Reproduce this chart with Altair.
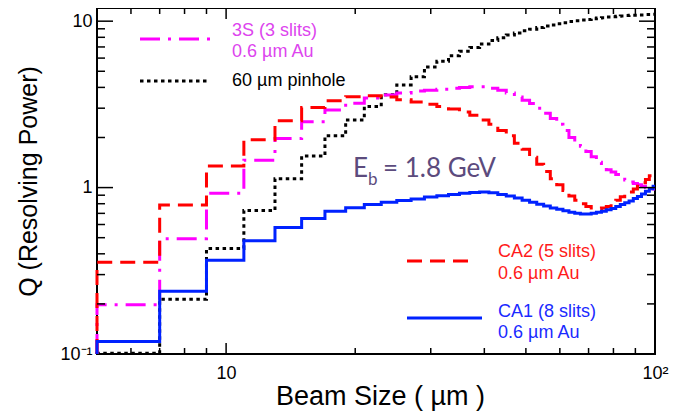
import altair as alt
import pandas as pd

# ---------------- data ----------------
bin_low_edges = list(range(5, 100, 2))   # 2 um wide bins: 5-7, 7-9, ..., 99-101
x_end = 100

ca1_8slits = [0.119, 0.238, 0.366, 0.48, 0.575, 0.652, 0.721, 0.756, 0.791, 0.817,
              0.836, 0.855, 0.879, 0.893, 0.91, 0.925, 0.935, 0.94, 0.93, 0.91,
              0.89, 0.865, 0.84, 0.815, 0.795, 0.775, 0.755, 0.74, 0.725, 0.71,
              0.70, 0.695, 0.695, 0.70, 0.71, 0.72, 0.735, 0.75, 0.77, 0.79,
              0.81, 0.83, 0.86, 0.885, 0.915, 0.95, 0.985, 1.02]

pinhole_60um = [0.101, 0.213, 0.43, 0.728, 1.13, 1.55, 2.05, 2.55, 3.07, 3.61,
                4.14, 4.64, 5.3, 5.75, 6.2, 6.6, 6.95, 7.3, 7.65, 7.95,
                8.25, 8.5, 8.75, 8.95, 9.15, 9.35, 9.5, 9.65, 9.8, 9.95,
                10.05, 10.15, 10.25, 10.35, 10.45, 10.5, 10.6, 10.65, 10.7, 10.75,
                10.8, 10.85, 10.85, 10.9, 10.9, 10.95, 10.95, 11.0]

ca2_5slits = [0.356, 0.787, 1.35, 1.94, 2.52, 3.03, 3.33, 3.52, 3.56, 3.5,
              3.37, 3.27, 3.17, 3.07, 2.97, 2.85, 2.72, 2.55, 2.4, 2.2,
              2.05, 1.85, 1.7, 1.52, 1.38, 1.25, 1.13, 1.04, 0.96, 0.89,
              0.84, 0.80, 0.77, 0.755, 0.75, 0.755, 0.77, 0.80, 0.84, 0.88,
              0.91, 0.94, 0.98, 1.02, 1.07, 1.12, 1.18, 1.25]

s3_3slits = [0.198, 0.493, 0.925, 1.46, 1.97, 2.49, 2.93, 3.21, 3.45, 3.6,
             3.7, 3.8, 3.85, 3.9, 3.95, 4.0, 4.04, 4.04, 3.95, 3.85,
             3.7, 3.5, 3.35, 3.2, 3.0, 2.8, 2.6, 2.4, 2.2, 2.0,
             1.88, 1.77, 1.65, 1.53, 1.42, 1.35, 1.28, 1.24, 1.2, 1.15,
             1.11, 1.08, 1.06, 1.04, 1.02, 1.0, 0.99, 0.98]

x_minor_ticks = [6, 7, 8, 9, 20, 30, 40, 50, 60, 70, 80, 90]
x_major_ticks = [10]
y_minor_ticks = [0.2, 0.3, 0.4, 0.5, 0.6, 0.7, 0.8, 0.9, 2, 3, 4, 5, 6, 7, 8, 9]
y_major_ticks = [1, 10]

X_DOMAIN = [5, 100]
Y_DOMAIN = [0.1, 12]

series = {
    "pinhole": pinhole_60um,
    "3S": s3_3slits,
    "CA2": ca2_5slits,
    "CA1": ca1_8slits,
}

rows = []
for name, vals in series.items():
    i = 0
    rows.append({"series": name, "x": X_DOMAIN[0], "q": Y_DOMAIN[0], "i": i})
    for e, v in zip(bin_low_edges, vals):
        i += 1
        rows.append({"series": name, "x": e, "q": v, "i": i})
    rows.append({"series": name, "x": x_end, "q": vals[-1], "i": i + 1})
df = pd.DataFrame(rows)

W, H = 558, 346
FONT = "Liberation Sans"

xs = alt.Scale(type="log", domain=X_DOMAIN, nice=False)
ys = alt.Scale(type="log", domain=Y_DOMAIN, nice=False)

x_axis = alt.Axis(values=[10, 100], labelExpr="datum.value < 50 ? '10' : '10²'",
                  ticks=False, domain=False, grid=False, labelFont=FONT, labelFontSize=18,
                  labelColor="black", labelPadding=10, labelOverlap=False, labelFlush=False,
                  title="Beam Size ( µm )", titleFont=FONT, titleFontSize=27,
                  titleFontWeight="normal", titleColor="black", titleX=283, titleY=42,
                  titleAlign="center", titleBaseline="middle")
y_axis = alt.Axis(values=[0.1, 1, 10],
                  labelExpr="datum.value < 0.5 ? '10⁻¹' : (datum.value < 5 ? '1' : '10')",
                  ticks=False, domain=False, grid=False, labelFont=FONT, labelFontSize=18,
                  labelColor="black", labelPadding=5, labelOverlap=False, labelFlush=False,
                  title="Q (Resolving Power)", titleFont=FONT, titleFontSize=25,
                  titleFontWeight="normal", titleColor="black", titleX=-69, titleY=173,
                  titleAngle=270, titleAlign="center", titleBaseline="middle")

styles = {
    "pinhole": ("black", [3.5, 3.5]),
    "3S": ("#ff00ff", [20, 8, 3, 8]),
    "CA2": ("#ff0000", [15, 8]),
    "CA1": ("#0022ff", None),
}

layers = []
for name in series:
    color, dash = styles[name]
    kw = dict(interpolate="step-after", color=color, strokeWidth=3, strokeCap="butt")
    if dash:
        kw["strokeDash"] = dash
    layers.append(
        alt.Chart(df).transform_filter(alt.datum.series == name).mark_line(**kw).encode(
            x=alt.X("x:Q", scale=xs, axis=x_axis),
            y=alt.Y("q:Q", scale=ys, axis=y_axis),
            order="i:Q",
        )
    )

# inward ticks on all four sides
def xticks(vals, y1, y2):
    return alt.Chart(pd.DataFrame({"v": vals})).mark_rule(color="black", strokeWidth=1.5).encode(
        x=alt.X("v:Q", scale=xs, axis=x_axis), y=alt.value(y1), y2=alt.value(y2))

def yticks(vals, x1, x2):
    return alt.Chart(pd.DataFrame({"v": vals})).mark_rule(color="black", strokeWidth=1.5).encode(
        y=alt.Y("v:Q", scale=ys, axis=y_axis), x=alt.value(x1), x2=alt.value(x2))

layers += [
    xticks(x_minor_ticks, H, H - 6), xticks(x_major_ticks, H, H - 11),
    xticks(x_minor_ticks, 0, 6), xticks(x_major_ticks, 0, 11),
    yticks(y_minor_ticks, 0, 8), yticks(y_major_ticks, 0, 16),
    yticks(y_minor_ticks, W, W - 8), yticks(y_major_ticks, W, W - 16),
]

def txt(s, x, y, color, size=18, font=FONT, baseline="middle"):
    return alt.Chart(pd.DataFrame({"t": [s]})).mark_text(
        align="left", baseline=baseline, color=color, fontSize=size, font=font
    ).encode(x=alt.value(x), y=alt.value(y), text="t:N")

def sample(x1, x2, y, color, dash=None):
    kw = dict(color=color, strokeWidth=3, strokeCap="butt")
    if dash:
        kw["strokeDash"] = dash
    return alt.Chart(pd.DataFrame({"a": [0]})).mark_rule(**kw).encode(
        x=alt.value(x1), x2=alt.value(x2), y=alt.value(y))

MAG_TXT = "#dd44ee"
layers += [
    sample(43, 113, 31, "#ff00ff", [20, 8, 3, 8]),
    txt("3S (3 slits)", 135, 23, MAG_TXT),
    txt("0.6 µm Au", 135, 44, MAG_TXT),
    sample(43, 113, 73, "black", [3.5, 3.5]),
    txt("60 µm pinhole", 135, 73, "black"),
    sample(310, 378, 253, "#ff0000", [15, 8]),
    txt("CA2 (5 slits)", 401, 244, "#ff1a1a"),
    txt("0.6 µm Au", 401, 266, "#ff1a1a"),
    sample(310, 385, 310, "#0022ff"),
    txt("CA1 (8 slits)", 401, 304, "#1a2aff"),
    txt("0.6 µm Au", 401, 325, "#1a2aff"),
    txt("E", 256, 169, "#5c4b7d", 26, "Lato", "alphabetic"),
    txt("b", 271, 177, "#5c4b7d", 17, "Lato", "alphabetic"),
    txt("= 1.8 GeV", 286, 169, "#5c4b7d", 26, "Lato", "alphabetic"),
]

chart = alt.layer(*layers).properties(
    width=W, height=H,
    autosize=alt.AutoSizeParams(type="none"),
    padding={"left": 89, "top": 0, "right": 25, "bottom": 62},
    background="white",
).configure_view(stroke="black", strokeWidth=2)

chart.save("out.html", embed_options={"renderer": "svg", "actions": False})
